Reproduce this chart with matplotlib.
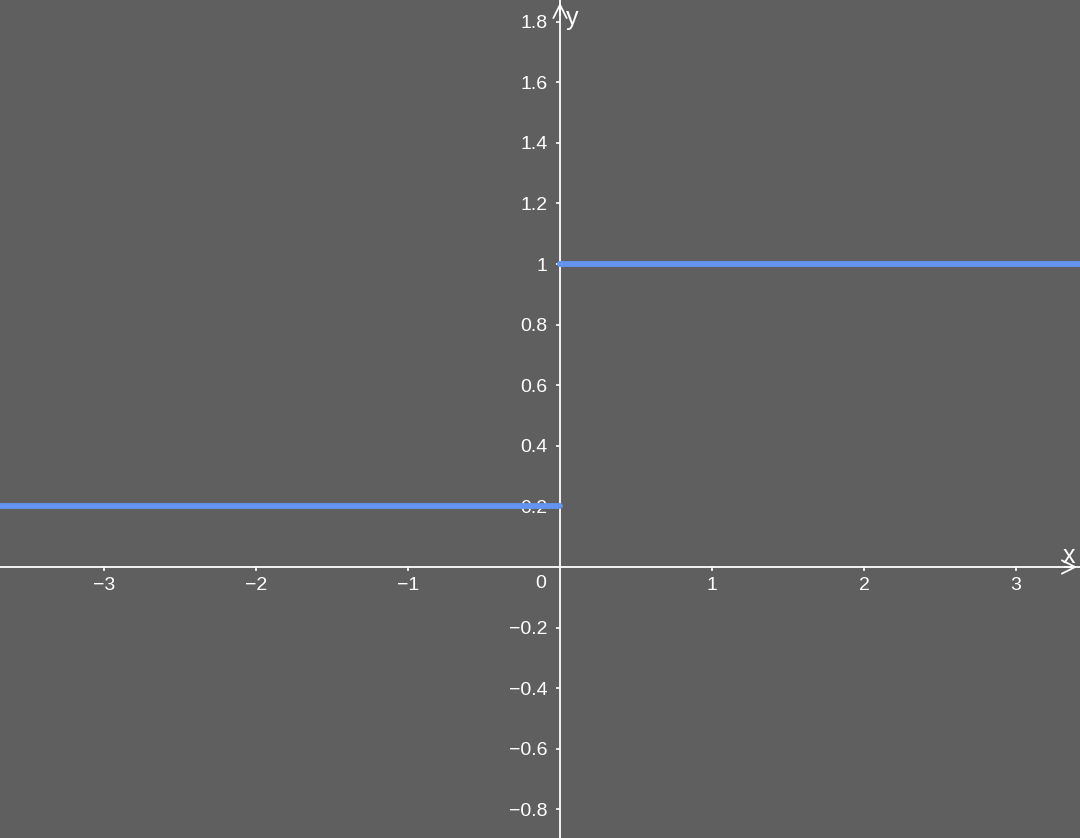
import numpy as np
import matplotlib
matplotlib.use("Agg")
import matplotlib.pyplot as plt

plt.rcParams["font.family"] = ["Liberation Sans", "DejaVu Sans"]

# ── 数据：分段常数函数
left_x = [-3.8, 0.0]
left_y = [0.2, 0.2]
right_x = [0.0, 3.5]
right_y = [1.0, 1.0]

x_ticks = [-3, -2, -1, 1, 2, 3]
y_ticks = [-0.8, -0.6, -0.4, -0.2, 0.2, 0.4, 0.6, 0.8, 1, 1.2, 1.4, 1.6, 1.8]

BG = "#5f5f5f"
BLUE = "#6394ef"
FG = "white"

xmin, xmax = -560 / 152, 520 / 152
ymin, ymax = -271 / 303, 567 / 303

fig = plt.figure(figsize=(10.8, 8.38), dpi=100, facecolor=BG)
ax = fig.add_axes([0, 0, 1, 1], facecolor=BG)
ax.set_xlim(xmin, xmax)
ax.set_ylim(ymin, ymax)

ax.plot(left_x, left_y, color=BLUE, linewidth=4.2, solid_capstyle="round", zorder=3)
ax.plot(right_x, right_y, color=BLUE, linewidth=4.2, solid_capstyle="round", zorder=3)

# axes through origin
for side in ("top", "right"):
    ax.spines[side].set_visible(False)
ax.spines["left"].set_position(("data", 0))
ax.spines["bottom"].set_position(("data", 0))
ax.spines["left"].set_color(FG)
ax.spines["bottom"].set_color(FG)
ax.spines["left"].set_linewidth(1.3)
ax.spines["bottom"].set_linewidth(1.3)

# arrows at the ends
ax.annotate("", xy=(xmax, 0), xytext=(xmax - 0.12, 0),
            arrowprops=dict(arrowstyle="->", color=FG, lw=1.3, mutation_scale=24))
ax.annotate("", xy=(0, ymax), xytext=(0, ymax - 0.06),
            arrowprops=dict(arrowstyle="->", color=FG, lw=1.3, mutation_scale=24))

ax.set_xticks(x_ticks)
ax.set_xticklabels([f"{t}".replace("-", "\u2212") for t in x_ticks])
ax.set_yticks(y_ticks)
ax.set_yticklabels([f"{t:g}".replace("-", "\u2212") for t in y_ticks])
ax.tick_params(axis="both", colors=FG, labelsize=14, length=3, width=1.2, direction="out")
ax.tick_params(axis="x", pad=4)
ax.tick_params(axis="y", pad=6)

# origin label and axis names
ax.text(-0.09, -0.055, "0", color=FG, fontsize=14, ha="right", va="center")
ax.text(xmax - 0.07, 0.035, "x", color=FG, fontsize=18, ha="center", va="center")
ax.text(0.08, ymax - 0.06, "y", color=FG, fontsize=18, ha="center", va="center")

fig.savefig("out.png", dpi=100, facecolor=BG)
